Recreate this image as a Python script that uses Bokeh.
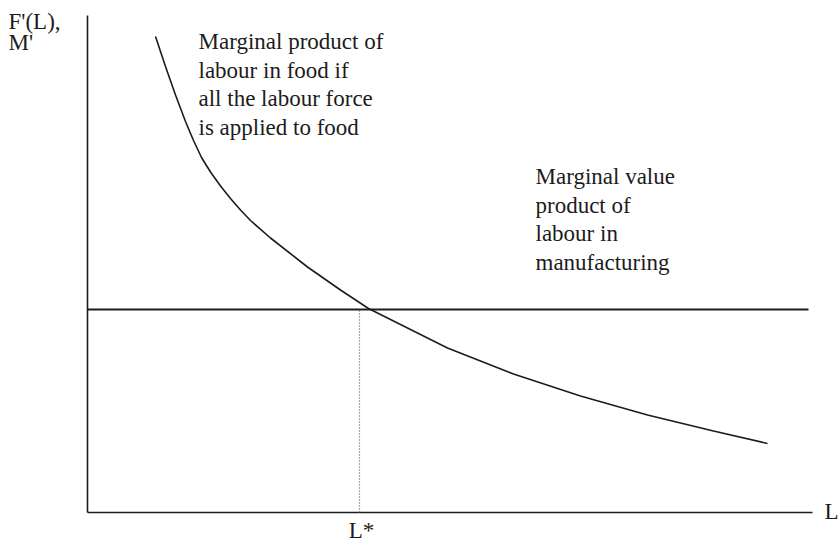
from bokeh.plotting import figure
from bokeh.models import Label, Range1d
from bokeh.embed import file_html
from bokeh.resources import INLINE

# --- data (arbitrary units) ---
curve_L = [6.8, 7.8, 8.8, 9.8, 10.6, 11.4, 12.3, 13.3, 14.3, 15.3, 16.3, 18.3, 22.0, 25.3, 28.1, 36.0, 42.6, 49.3, 56.0, 62.6, 68.0]
curve_F = [47.6, 44.6, 41.75, 39.1, 37.2, 35.5, 34.05, 32.65, 31.4, 30.25, 29.2, 27.45, 24.55, 22.25, 20.4, 16.45, 13.85, 11.65, 9.75, 8.15, 6.9]
mvp_level = 20.3          # marginal value product of labour in manufacturing
mvp_L_end = 72.1
L_star = 27.2
x_axis_end = 72.5
y_axis_end = 49.7

label_food = ["Marginal product of", "labour in food if", "all the labour force", "is applied to food"]
label_manu = ["Marginal value", "product of", "labour in", "manufacturing"]
y_label = ["F'(L),", "M'"]
x_label = "L"
star_label = "L*"

FONT = "Liberation Serif"
INK = "#1c1c1c"

p = figure(width=839, height=545, output_backend="svg", toolbar_location=None,
           x_range=Range1d(-8.7, 75.2), y_range=Range1d(-3.3, 51.2),
           min_border=0, min_border_left=0, min_border_right=0,
           min_border_top=0, min_border_bottom=0)
p.axis.visible = False
p.grid.visible = False
p.outline_line_color = None
p.background_fill_color = "white"
p.border_fill_color = "white"

# axes
p.line([0, 0], [0, y_axis_end], line_color=INK, line_width=1.6)
p.line([0, x_axis_end], [0, 0], line_color=INK, line_width=1.6)

# horizontal MVP line
p.line([0, mvp_L_end], [mvp_level, mvp_level], line_color=INK, line_width=1.8)

# marginal product curve
p.line(curve_L, curve_F, line_color=INK, line_width=1.6, line_join="round")

# dotted drop line at L*
p.line([L_star, L_star], [0, mvp_level], line_color="#555555", line_width=1.2, line_dash="1 2")

SHIFT = 0.7

def add_label(txt, x, y, align="left", size="23px"):
    p.add_layout(Label(x=x, y=y + SHIFT, text=txt, text_font=FONT, text_font_size=size,
                       text_color=INK, text_align=align, text_baseline="alphabetic"))

for i, t in enumerate(label_food):
    add_label(t, 11.1, 46.4 - 2.85 * i)
for i, t in enumerate(label_manu):
    add_label(t, 44.8, 32.9 - 2.85 * i)
add_label(y_label[0], -7.9, 48.4)
add_label(y_label[1], -7.9, 46.3)
add_label(x_label, 73.7, -0.6)
add_label(star_label, L_star + 0.2, -2.5, align="center")

open("out.html", "w").write(file_html(p, INLINE))
